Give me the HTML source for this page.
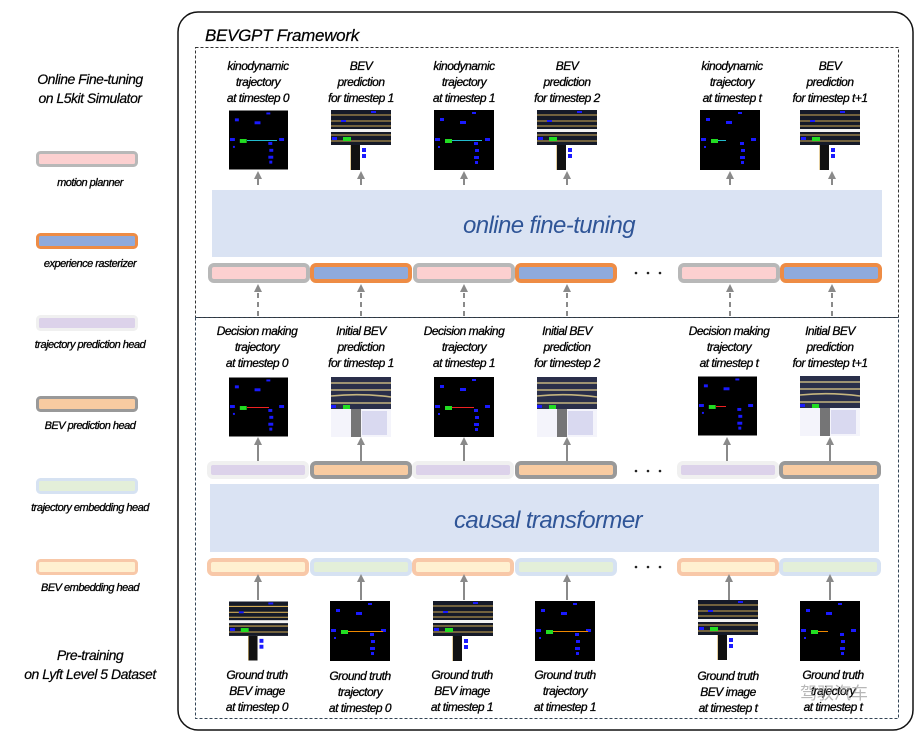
<!DOCTYPE html>
<html><head><meta charset="utf-8"><style>
body{margin:0;background:#fff}
svg{display:block}
text{font-family:"Liberation Sans",sans-serif;font-style:italic;fill:#000}
.l{font-size:12px;letter-spacing:-0.5px;stroke:#000;stroke-width:0.3}
.lg{font-size:11px;letter-spacing:-0.5px;stroke:#000;stroke-width:0.3}
.h{font-size:14px;letter-spacing:-0.5px;stroke:#000;stroke-width:0.2}
</style></head><body>
<svg width="918" height="733" viewBox="0 0 918 733" xmlns="http://www.w3.org/2000/svg">
<defs>
<marker id="ah" markerWidth="8" markerHeight="8" refX="4" refY="4" orient="auto" markerUnits="userSpaceOnUse"><path d="M0,0 L8,4 L0,8 z" fill="#8a8a8a"/></marker>
<symbol id="trajBase" viewBox="0 0 60 60">
<rect width="60" height="60" fill="#000"/>
<rect x="38" y="2" width="4" height="2" fill="#1a1aff"/><rect x="6" y="8" width="4" height="3" fill="#1a1aff"/><rect x="26" y="11" width="6" height="3" fill="#1a1aff"/><rect x="1" y="28" width="5" height="3" fill="#1a1aff"/><rect x="51" y="28" width="5" height="3" fill="#1a1aff"/><rect x="40" y="32" width="4" height="3" fill="#1a1aff"/><rect x="41" y="39" width="4" height="3" fill="#1a1aff"/><rect x="40" y="46" width="5" height="3" fill="#1a1aff"/><rect x="41" y="51" width="3" height="3" fill="#1a1aff"/><rect x="4" y="36" width="2" height="2" fill="#1a1aff"/>
<rect x="11" y="29" width="7" height="4" fill="#22dd22"/>
</symbol>
<symbol id="road" viewBox="0 0 60 60">
<rect width="60" height="60" fill="#fff"/>
<rect width="60" height="35" fill="#151a28"/>
<g stroke="#d0aa55" stroke-width="1.1" fill="none"><path d="M0 5H60M0 11H60M0 16H60M0 25H60M0 31H60"/><path d="M20 35V60M28 35V60"/></g>
<rect x="0" y="19" width="60" height="3" fill="#f2f2f2"/>
<rect x="20" y="35" width="9" height="25" fill="#111"/>
<rect x="1" y="27" width="5" height="3" fill="#1a1aff"/><rect x="12" y="27" width="8" height="4" fill="#22dd22"/><rect x="40" y="1" width="5" height="2" fill="#1a1aff"/><rect x="10" y="10" width="5" height="2" fill="#1a1aff"/>
<rect x="31" y="38" width="4" height="4" fill="#1a1aff"/><rect x="31" y="44" width="4" height="4" fill="#1a1aff"/>
</symbol>
<symbol id="roadBlur" viewBox="0 0 60 60">
<rect width="60" height="60" fill="#f4f4fb"/>
<rect width="60" height="32" fill="#2a2f4a"/>
<g stroke="#e0cc88" stroke-width="1.6" fill="none" opacity="0.85"><path d="M0 6H60M0 13H60M0 19Q30 16 60 20M0 26H60"/></g>
<rect x="0" y="28" width="5" height="3" fill="#1a1aff"/><rect x="12" y="28" width="7" height="4" fill="#22dd22"/>
<rect x="20" y="32" width="10" height="28" fill="#555" opacity="0.8"/>
<rect x="31" y="34" width="25" height="24" fill="#c6c6ea" opacity="0.6"/>
</symbol>
</defs>

<text class="h" x="90" y="84" text-anchor="middle">Online Fine-tuning</text>
<text class="h" x="90" y="103" text-anchor="middle">on L5kit Simulator</text>
<rect x="37.5" y="152.5" width="99" height="13" rx="3" fill="#fcd0d0" stroke="#b8b8b8" stroke-width="3"/>
<text class="lg" x="90" y="186" text-anchor="middle">motion planner</text>
<rect x="37.5" y="234.5" width="99" height="13" rx="3" fill="#8faadc" stroke="#ee8c45" stroke-width="3"/>
<text class="lg" x="90" y="267" text-anchor="middle">experience rasterizer</text>
<rect x="37.5" y="316.5" width="99" height="13" rx="3" fill="#dcd2ea" stroke="#f0f0f0" stroke-width="3"/>
<text class="lg" x="90" y="348" text-anchor="middle">trajectory prediction head</text>
<rect x="37.5" y="397.5" width="99" height="13" rx="3" fill="#f8cba1" stroke="#999" stroke-width="3"/>
<text class="lg" x="90" y="429" text-anchor="middle">BEV prediction head</text>
<rect x="37.5" y="479.5" width="99" height="13" rx="3" fill="#e3efd9" stroke="#d6e2f2" stroke-width="3"/>
<text class="lg" x="90" y="511" text-anchor="middle">trajectory embedding head</text>
<rect x="37.5" y="560.5" width="99" height="13" rx="3" fill="#fff0d0" stroke="#f8c8a8" stroke-width="3"/>
<text class="lg" x="90" y="591" text-anchor="middle">BEV embedding head</text>
<text class="h" x="90" y="660" text-anchor="middle">Pre-training</text>
<text class="h" x="90" y="679" text-anchor="middle">on Lyft Level 5 Dataset</text>

<rect x="178" y="12" width="735" height="718" rx="20" fill="none" stroke="#111" stroke-width="1.5"/>
<text x="205" y="41" style="font-size:17px;letter-spacing:-0.3px;stroke:#000;stroke-width:0.2">BEVGPT  Framework</text>
<rect x="195.5" y="47.5" width="703" height="270" fill="none" stroke="#333" stroke-dasharray="3,2"/>
<rect x="195.5" y="317.5" width="703" height="401" fill="none" stroke="#345" stroke-dasharray="3,2"/>

<g class="l" text-anchor="middle">
<text x="258" y="70">kinodynamic</text><text x="258" y="86">trajectory</text><text x="258" y="102">at timestep 0</text>
<text x="361" y="70">BEV</text><text x="361" y="86">prediction</text><text x="361" y="102">for timestep 1</text>
<text x="464" y="70">kinodynamic</text><text x="464" y="86">trajectory</text><text x="464" y="102">at timestep 1</text>
<text x="567" y="70">BEV</text><text x="567" y="86">prediction</text><text x="567" y="102">for timestep 2</text>
<text x="732" y="70">kinodynamic</text><text x="732" y="86">trajectory</text><text x="732" y="102">at timestep t</text>
<text x="830" y="70">BEV</text><text x="830" y="86">prediction</text><text x="830" y="102">for timestep t+1</text>
</g>
<use href="#trajBase" x="229" y="110" width="59" height="60"/><rect x="247" y="140" width="30" height="1" fill="#2bc"/>
<use href="#road" x="331" y="110" width="60" height="60"/>
<use href="#trajBase" x="434" y="110" width="60" height="60"/><rect x="452" y="140" width="30" height="1" fill="#2bc"/>
<use href="#road" x="537" y="110" width="60" height="60"/>
<use href="#trajBase" x="700" y="110" width="60" height="60"/><rect x="718" y="140" width="8" height="1" fill="#2bc"/>
<use href="#road" x="800" y="110" width="60" height="60"/>
<g stroke="#8a8a8a" stroke-width="2" marker-end="url(#ah)">
<line x1="258" y1="185" x2="258" y2="175"/><line x1="361" y1="185" x2="361" y2="175"/><line x1="464" y1="185" x2="464" y2="175"/><line x1="567" y1="185" x2="567" y2="175"/><line x1="730" y1="185" x2="730" y2="175"/><line x1="832" y1="185" x2="832" y2="175"/>
</g>
<rect x="212" y="190" width="670" height="67" fill="#dae3f3"/>
<text x="549" y="233" text-anchor="middle" style="font-size:24px;fill:#2f5597;letter-spacing:-0.6px">online fine-tuning</text>
<g stroke-width="4">
<rect x="210" y="265" width="98" height="16" rx="4" fill="#fcd0d0" stroke="#b8b8b8"/>
<rect x="312" y="265" width="98" height="16" rx="4" fill="#8faadc" stroke="#ee8c45"/>
<rect x="415" y="265" width="98" height="16" rx="4" fill="#fcd0d0" stroke="#b8b8b8"/>
<rect x="517" y="265" width="98" height="16" rx="4" fill="#8faadc" stroke="#ee8c45"/>
<rect x="680" y="265" width="98" height="16" rx="4" fill="#fcd0d0" stroke="#b8b8b8"/>
<rect x="782" y="265" width="98" height="16" rx="4" fill="#8faadc" stroke="#ee8c45"/>
</g>
<g fill="#222"><circle cx="636" cy="273" r="1.3"/><circle cx="648" cy="273" r="1.3"/><circle cx="660" cy="273" r="1.3"/></g>
<g stroke="#8a8a8a" stroke-width="2" stroke-dasharray="5,4" marker-end="url(#ah)">
<line x1="258" y1="316" x2="258" y2="288"/><line x1="361" y1="316" x2="361" y2="288"/><line x1="464" y1="316" x2="464" y2="288"/><line x1="567" y1="316" x2="567" y2="288"/><line x1="730" y1="316" x2="730" y2="288"/><line x1="832" y1="316" x2="832" y2="288"/>
</g>

<g class="l" text-anchor="middle">
<text x="257" y="335">Decision making</text><text x="257" y="351">trajectory</text><text x="257" y="367">at timestep 0</text>
<text x="361" y="335">Initial BEV</text><text x="361" y="351">prediction</text><text x="361" y="367">for timestep 1</text>
<text x="464" y="335">Decision making</text><text x="464" y="351">trajectory</text><text x="464" y="367">at timestep 1</text>
<text x="567" y="335">Initial BEV</text><text x="567" y="351">prediction</text><text x="567" y="367">for timestep 2</text>
<text x="729" y="335">Decision making</text><text x="729" y="351">trajectory</text><text x="729" y="367">at timestep t</text>
<text x="830" y="335">Initial BEV</text><text x="830" y="351">prediction</text><text x="830" y="367">for timestep t+1</text>
</g>
<use href="#trajBase" x="229" y="377" width="59" height="60"/><rect x="247" y="407" width="22" height="1" fill="#e22"/>
<use href="#roadBlur" x="331" y="377" width="60" height="60"/>
<use href="#trajBase" x="434" y="377" width="60" height="60"/><rect x="452" y="407" width="22" height="1" fill="#e22"/>
<use href="#roadBlur" x="537" y="377" width="60" height="60"/>
<use href="#trajBase" x="698" y="376" width="59" height="60"/><rect x="716" y="406" width="10" height="1" fill="#e22"/>
<use href="#roadBlur" x="800" y="376" width="60" height="60"/>
<g stroke="#8a8a8a" stroke-width="2" marker-end="url(#ah)">
<line x1="258" y1="463" x2="258" y2="441"/><line x1="361" y1="463" x2="361" y2="441"/><line x1="464" y1="463" x2="464" y2="441"/><line x1="567" y1="463" x2="567" y2="441"/><line x1="727" y1="463" x2="727" y2="441"/><line x1="830" y1="463" x2="830" y2="441"/>
</g>
<g stroke-width="4">
<rect x="209" y="463" width="98" height="14" rx="4" fill="#dcd2ea" stroke="#f0f0f0"/>
<rect x="312" y="463" width="98" height="14" rx="4" fill="#f8cba1" stroke="#999"/>
<rect x="414" y="463" width="98" height="14" rx="4" fill="#dcd2ea" stroke="#f0f0f0"/>
<rect x="517" y="463" width="98" height="14" rx="4" fill="#f8cba1" stroke="#999"/>
<rect x="679" y="463" width="98" height="14" rx="4" fill="#dcd2ea" stroke="#f0f0f0"/>
<rect x="781" y="463" width="98" height="14" rx="4" fill="#f8cba1" stroke="#999"/>
</g>
<g fill="#222"><circle cx="636" cy="471" r="1.3"/><circle cx="648" cy="471" r="1.3"/><circle cx="660" cy="471" r="1.3"/></g>
<rect x="210" y="484" width="669" height="68" fill="#dae3f3"/>
<text x="548" y="528" text-anchor="middle" style="font-size:24px;fill:#2f5597;letter-spacing:-0.6px">causal transformer</text>
<g stroke-width="4">
<rect x="209" y="560" width="98" height="14" rx="4" fill="#fff0d0" stroke="#f8c8a8"/>
<rect x="312" y="560" width="98" height="14" rx="4" fill="#e3efd9" stroke="#d6e2f2"/>
<rect x="414" y="560" width="98" height="14" rx="4" fill="#fff0d0" stroke="#f8c8a8"/>
<rect x="517" y="560" width="98" height="14" rx="4" fill="#e3efd9" stroke="#d6e2f2"/>
<rect x="679" y="560" width="98" height="14" rx="4" fill="#fff0d0" stroke="#f8c8a8"/>
<rect x="781" y="560" width="98" height="14" rx="4" fill="#e3efd9" stroke="#d6e2f2"/>
</g>
<g fill="#222"><circle cx="636" cy="567" r="1.3"/><circle cx="648" cy="567" r="1.3"/><circle cx="660" cy="567" r="1.3"/></g>
<g stroke="#8a8a8a" stroke-width="2" marker-end="url(#ah)">
<line x1="258" y1="600" x2="258" y2="578"/><line x1="361" y1="600" x2="361" y2="578"/><line x1="464" y1="600" x2="464" y2="578"/><line x1="567" y1="600" x2="567" y2="578"/><line x1="729" y1="600" x2="729" y2="578"/><line x1="830" y1="600" x2="830" y2="578"/>
</g>
<use href="#road" x="229" y="601" width="59" height="60"/>
<use href="#trajBase" x="330" y="601" width="60" height="60"/><rect x="348" y="631" width="35" height="1" fill="#e80"/>
<use href="#road" x="433" y="601" width="60" height="60"/>
<use href="#trajBase" x="535" y="601" width="60" height="60"/><rect x="553" y="631" width="35" height="1" fill="#e80"/>
<use href="#road" x="698" y="600" width="60" height="60"/>
<use href="#trajBase" x="800" y="601" width="60" height="60"/><rect x="818" y="631" width="10" height="1" fill="#e80"/>
<g class="l" text-anchor="middle">
<text x="257" y="679">Ground truth</text><text x="257" y="695">BEV image</text><text x="257" y="711">at timestep 0</text>
<text x="360" y="680">Ground truth</text><text x="360" y="696">trajectory</text><text x="360" y="712">at timestep 0</text>
<text x="462" y="679">Ground truth</text><text x="462" y="695">BEV image</text><text x="462" y="711">at timestep 1</text>
<text x="565" y="679">Ground truth</text><text x="565" y="695">trajectory</text><text x="565" y="711">at timestep 1</text>
<text x="728" y="680">Ground truth</text><text x="728" y="696">BEV image</text><text x="728" y="712">at timestep t</text>
<text x="833" y="679">Ground truth</text><text x="833" y="695">trajectory</text><text x="833" y="711">at timestep t</text>
</g>
<text x="800" y="699" style="font-style:normal;font-size:17px;fill:#999;opacity:0.7" font-family="Noto Sans CJK SC">驾驭汽车</text>
</svg>
</body></html>
